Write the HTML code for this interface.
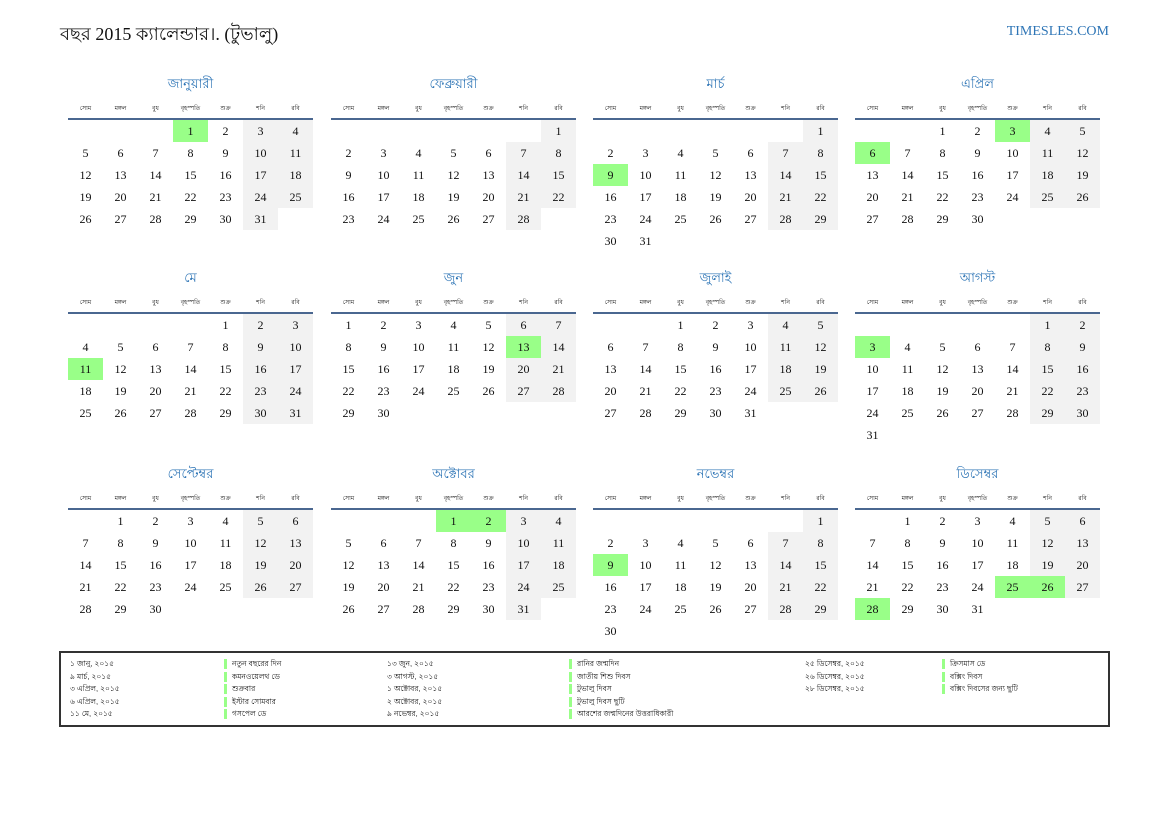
<!DOCTYPE html>
<html><head><meta charset="utf-8">
<style>
body{margin:0;width:1169px;height:827px;background:#fff;position:relative;overflow:hidden;font-family:"Liberation Serif","Noto Serif CJK SC",serif;color:#111}
.t{position:absolute;left:60px;top:20px;font-size:18px;font-family:"Liberation Serif",sans-serif}
.site{position:absolute;right:60px;top:24px;font-size:14px;color:#2e75b6}
.m{position:absolute;width:245px}
.mt{height:18px;line-height:18px;text-align:center;color:#2e75b6;font-size:13px;font-family:"Liberation Sans",sans-serif;margin-top:-9px}
table{border-collapse:collapse;width:245px;table-layout:fixed;margin-top:5px}
th{height:20px;font-size:6px;font-weight:normal;border-bottom:2px solid #4a6790;padding:0;font-family:"Liberation Sans",sans-serif}
td{height:22px;padding:0;text-align:center;font-size:12px;width:35px}
td:nth-child(6):not(:empty),td:nth-child(7):not(:empty){background:#f2f2f2}
td.h{background:#99ff88 !important}
.lg{position:absolute;left:59px;top:651px;width:1047px;height:72px;border:2px solid #333}
.c{position:absolute;font-size:7.5px;line-height:12.5px;font-family:"Liberation Sans",sans-serif;top:5px}
.b{top:6px}
.b span{display:block;height:10px;line-height:10px;margin:0 0 2.5px 0;border-left:3px solid #99ff88;padding-left:5px}
</style></head><body>
<div class="t">বছর 2015 ক্যালেন্ডার।. (টুভালু)</div>
<div class="site">TIMESLES.COM</div>

<div class="m" style="left:68px;top:84px"><div class="mt">জানুয়ারী</div><table><tr><th>সোম</th><th>মঙ্গল</th><th>বুধ</th><th>বৃহস্পতি</th><th>শুক্র</th><th>শনি</th><th>রবি</th></tr>
<tr><td></td><td></td><td></td><td class="h">1</td><td>2</td><td>3</td><td>4</td></tr>
<tr><td>5</td><td>6</td><td>7</td><td>8</td><td>9</td><td>10</td><td>11</td></tr>
<tr><td>12</td><td>13</td><td>14</td><td>15</td><td>16</td><td>17</td><td>18</td></tr>
<tr><td>19</td><td>20</td><td>21</td><td>22</td><td>23</td><td>24</td><td>25</td></tr>
<tr><td>26</td><td>27</td><td>28</td><td>29</td><td>30</td><td>31</td><td></td></tr></table></div>

<div class="m" style="left:331px;top:84px"><div class="mt">ফেব্রুয়ারী</div><table><tr><th>সোম</th><th>মঙ্গল</th><th>বুধ</th><th>বৃহস্পতি</th><th>শুক্র</th><th>শনি</th><th>রবি</th></tr>
<tr><td></td><td></td><td></td><td></td><td></td><td></td><td>1</td></tr>
<tr><td>2</td><td>3</td><td>4</td><td>5</td><td>6</td><td>7</td><td>8</td></tr>
<tr><td>9</td><td>10</td><td>11</td><td>12</td><td>13</td><td>14</td><td>15</td></tr>
<tr><td>16</td><td>17</td><td>18</td><td>19</td><td>20</td><td>21</td><td>22</td></tr>
<tr><td>23</td><td>24</td><td>25</td><td>26</td><td>27</td><td>28</td><td></td></tr></table></div>

<div class="m" style="left:593px;top:84px"><div class="mt">মার্চ</div><table><tr><th>সোম</th><th>মঙ্গল</th><th>বুধ</th><th>বৃহস্পতি</th><th>শুক্র</th><th>শনি</th><th>রবি</th></tr>
<tr><td></td><td></td><td></td><td></td><td></td><td></td><td>1</td></tr>
<tr><td>2</td><td>3</td><td>4</td><td>5</td><td>6</td><td>7</td><td>8</td></tr>
<tr><td class="h">9</td><td>10</td><td>11</td><td>12</td><td>13</td><td>14</td><td>15</td></tr>
<tr><td>16</td><td>17</td><td>18</td><td>19</td><td>20</td><td>21</td><td>22</td></tr>
<tr><td>23</td><td>24</td><td>25</td><td>26</td><td>27</td><td>28</td><td>29</td></tr>
<tr><td>30</td><td>31</td><td></td><td></td><td></td><td></td><td></td></tr></table></div>

<div class="m" style="left:855px;top:84px"><div class="mt">এপ্রিল</div><table><tr><th>সোম</th><th>মঙ্গল</th><th>বুধ</th><th>বৃহস্পতি</th><th>শুক্র</th><th>শনি</th><th>রবি</th></tr>
<tr><td></td><td></td><td>1</td><td>2</td><td class="h">3</td><td>4</td><td>5</td></tr>
<tr><td class="h">6</td><td>7</td><td>8</td><td>9</td><td>10</td><td>11</td><td>12</td></tr>
<tr><td>13</td><td>14</td><td>15</td><td>16</td><td>17</td><td>18</td><td>19</td></tr>
<tr><td>20</td><td>21</td><td>22</td><td>23</td><td>24</td><td>25</td><td>26</td></tr>
<tr><td>27</td><td>28</td><td>29</td><td>30</td><td></td><td></td><td></td></tr></table></div>

<div class="m" style="left:68px;top:278px"><div class="mt">মে</div><table><tr><th>সোম</th><th>মঙ্গল</th><th>বুধ</th><th>বৃহস্পতি</th><th>শুক্র</th><th>শনি</th><th>রবি</th></tr>
<tr><td></td><td></td><td></td><td></td><td>1</td><td>2</td><td>3</td></tr>
<tr><td>4</td><td>5</td><td>6</td><td>7</td><td>8</td><td>9</td><td>10</td></tr>
<tr><td class="h">11</td><td>12</td><td>13</td><td>14</td><td>15</td><td>16</td><td>17</td></tr>
<tr><td>18</td><td>19</td><td>20</td><td>21</td><td>22</td><td>23</td><td>24</td></tr>
<tr><td>25</td><td>26</td><td>27</td><td>28</td><td>29</td><td>30</td><td>31</td></tr></table></div>

<div class="m" style="left:331px;top:278px"><div class="mt">জুন</div><table><tr><th>সোম</th><th>মঙ্গল</th><th>বুধ</th><th>বৃহস্পতি</th><th>শুক্র</th><th>শনি</th><th>রবি</th></tr>
<tr><td>1</td><td>2</td><td>3</td><td>4</td><td>5</td><td>6</td><td>7</td></tr>
<tr><td>8</td><td>9</td><td>10</td><td>11</td><td>12</td><td class="h">13</td><td>14</td></tr>
<tr><td>15</td><td>16</td><td>17</td><td>18</td><td>19</td><td>20</td><td>21</td></tr>
<tr><td>22</td><td>23</td><td>24</td><td>25</td><td>26</td><td>27</td><td>28</td></tr>
<tr><td>29</td><td>30</td><td></td><td></td><td></td><td></td><td></td></tr></table></div>

<div class="m" style="left:593px;top:278px"><div class="mt">জুলাই</div><table><tr><th>সোম</th><th>মঙ্গল</th><th>বুধ</th><th>বৃহস্পতি</th><th>শুক্র</th><th>শনি</th><th>রবি</th></tr>
<tr><td></td><td></td><td>1</td><td>2</td><td>3</td><td>4</td><td>5</td></tr>
<tr><td>6</td><td>7</td><td>8</td><td>9</td><td>10</td><td>11</td><td>12</td></tr>
<tr><td>13</td><td>14</td><td>15</td><td>16</td><td>17</td><td>18</td><td>19</td></tr>
<tr><td>20</td><td>21</td><td>22</td><td>23</td><td>24</td><td>25</td><td>26</td></tr>
<tr><td>27</td><td>28</td><td>29</td><td>30</td><td>31</td><td></td><td></td></tr></table></div>

<div class="m" style="left:855px;top:278px"><div class="mt">আগস্ট</div><table><tr><th>সোম</th><th>মঙ্গল</th><th>বুধ</th><th>বৃহস্পতি</th><th>শুক্র</th><th>শনি</th><th>রবি</th></tr>
<tr><td></td><td></td><td></td><td></td><td></td><td>1</td><td>2</td></tr>
<tr><td class="h">3</td><td>4</td><td>5</td><td>6</td><td>7</td><td>8</td><td>9</td></tr>
<tr><td>10</td><td>11</td><td>12</td><td>13</td><td>14</td><td>15</td><td>16</td></tr>
<tr><td>17</td><td>18</td><td>19</td><td>20</td><td>21</td><td>22</td><td>23</td></tr>
<tr><td>24</td><td>25</td><td>26</td><td>27</td><td>28</td><td>29</td><td>30</td></tr>
<tr><td>31</td><td></td><td></td><td></td><td></td><td></td><td></td></tr></table></div>

<div class="m" style="left:68px;top:474px"><div class="mt">সেপ্টেম্বর</div><table><tr><th>সোম</th><th>মঙ্গল</th><th>বুধ</th><th>বৃহস্পতি</th><th>শুক্র</th><th>শনি</th><th>রবি</th></tr>
<tr><td></td><td>1</td><td>2</td><td>3</td><td>4</td><td>5</td><td>6</td></tr>
<tr><td>7</td><td>8</td><td>9</td><td>10</td><td>11</td><td>12</td><td>13</td></tr>
<tr><td>14</td><td>15</td><td>16</td><td>17</td><td>18</td><td>19</td><td>20</td></tr>
<tr><td>21</td><td>22</td><td>23</td><td>24</td><td>25</td><td>26</td><td>27</td></tr>
<tr><td>28</td><td>29</td><td>30</td><td></td><td></td><td></td><td></td></tr></table></div>

<div class="m" style="left:331px;top:474px"><div class="mt">অক্টোবর</div><table><tr><th>সোম</th><th>মঙ্গল</th><th>বুধ</th><th>বৃহস্পতি</th><th>শুক্র</th><th>শনি</th><th>রবি</th></tr>
<tr><td></td><td></td><td></td><td class="h">1</td><td class="h">2</td><td>3</td><td>4</td></tr>
<tr><td>5</td><td>6</td><td>7</td><td>8</td><td>9</td><td>10</td><td>11</td></tr>
<tr><td>12</td><td>13</td><td>14</td><td>15</td><td>16</td><td>17</td><td>18</td></tr>
<tr><td>19</td><td>20</td><td>21</td><td>22</td><td>23</td><td>24</td><td>25</td></tr>
<tr><td>26</td><td>27</td><td>28</td><td>29</td><td>30</td><td>31</td><td></td></tr></table></div>

<div class="m" style="left:593px;top:474px"><div class="mt">নভেম্বর</div><table><tr><th>সোম</th><th>মঙ্গল</th><th>বুধ</th><th>বৃহস্পতি</th><th>শুক্র</th><th>শনি</th><th>রবি</th></tr>
<tr><td></td><td></td><td></td><td></td><td></td><td></td><td>1</td></tr>
<tr><td>2</td><td>3</td><td>4</td><td>5</td><td>6</td><td>7</td><td>8</td></tr>
<tr><td class="h">9</td><td>10</td><td>11</td><td>12</td><td>13</td><td>14</td><td>15</td></tr>
<tr><td>16</td><td>17</td><td>18</td><td>19</td><td>20</td><td>21</td><td>22</td></tr>
<tr><td>23</td><td>24</td><td>25</td><td>26</td><td>27</td><td>28</td><td>29</td></tr>
<tr><td>30</td><td></td><td></td><td></td><td></td><td></td><td></td></tr></table></div>

<div class="m" style="left:855px;top:474px"><div class="mt">ডিসেম্বর</div><table><tr><th>সোম</th><th>মঙ্গল</th><th>বুধ</th><th>বৃহস্পতি</th><th>শুক্র</th><th>শনি</th><th>রবি</th></tr>
<tr><td></td><td>1</td><td>2</td><td>3</td><td>4</td><td>5</td><td>6</td></tr>
<tr><td>7</td><td>8</td><td>9</td><td>10</td><td>11</td><td>12</td><td>13</td></tr>
<tr><td>14</td><td>15</td><td>16</td><td>17</td><td>18</td><td>19</td><td>20</td></tr>
<tr><td>21</td><td>22</td><td>23</td><td>24</td><td class="h">25</td><td class="h">26</td><td>27</td></tr>
<tr><td class="h">28</td><td>29</td><td>30</td><td>31</td><td></td><td></td><td></td></tr></table></div>

<div class="lg">
<div class="c" style="left:9px">১ জানু, ২০১৫<br>৯ মার্চ, ২০১৫<br>৩ এপ্রিল, ২০১৫<br>৬ এপ্রিল, ২০১৫<br>১১ মে, ২০১৫</div>
<div class="c b" style="left:163px"><span>নতুন বছরের দিন</span><span>কমনওয়েলথ ডে</span><span>শুক্রবার</span><span>ইস্টার সোমবার</span><span>গসপেল ডে</span></div>
<div class="c" style="left:326px">১৩ জুন, ২০১৫<br>৩ আগস্ট, ২০১৫<br>১ অক্টোবর, ২০১৫<br>২ অক্টোবর, ২০১৫<br>৯ নভেম্বর, ২০১৫</div>
<div class="c b" style="left:508px"><span>রানির জন্মদিন</span><span>জাতীয় শিশু দিবস</span><span>টুভালু দিবস</span><span>টুভালু দিবস ছুটি</span><span>আরশের জন্মদিনের উত্তরাধিকারী</span></div>
<div class="c" style="left:744px">২৫ ডিসেম্বর, ২০১৫<br>২৬ ডিসেম্বর, ২০১৫<br>২৮ ডিসেম্বর, ২০১৫</div>
<div class="c b" style="left:881px"><span>ক্রিসমাস ডে</span><span>বক্সিং দিবস</span><span>বক্সিং দিবসের জন্য ছুটি</span></div>
</div>
</body></html>
